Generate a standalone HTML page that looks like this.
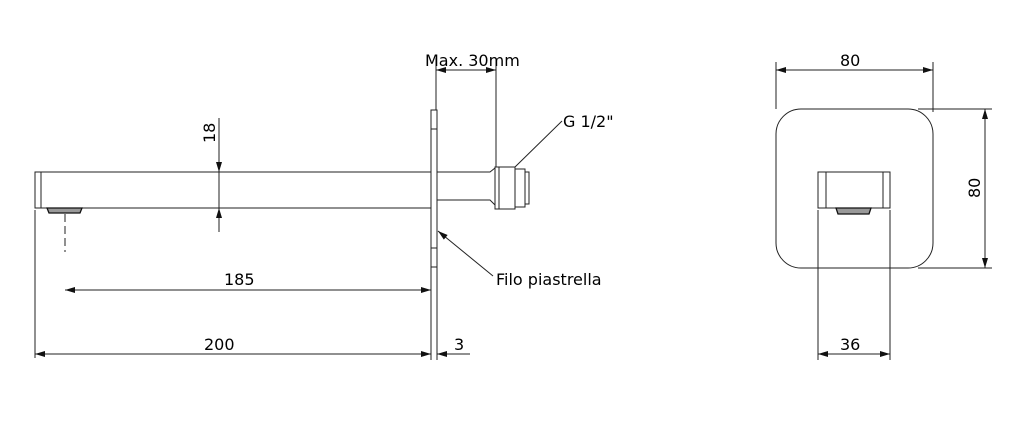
<!DOCTYPE html>
<html><head><style>body{margin:0;background:#fff}svg{display:block}text{font-family:"DejaVu Sans","Liberation Sans",sans-serif;font-size:16px;fill:#000}</style></head><body>
<svg width="1024" height="437" viewBox="0 0 1024 437" xmlns="http://www.w3.org/2000/svg">
<defs><marker id="a" viewBox="0 0 10 6" refX="10" refY="3" markerWidth="14" markerHeight="6" markerUnits="userSpaceOnUse" orient="auto-start-reverse"><path d="M0,0 L10,3 L0,6z" fill="#111"/></marker></defs>
<g stroke="#222" stroke-width="1" fill="none">
<rect x="35" y="172" width="396" height="36"/>
<line x1="41" y1="172" x2="41" y2="208"/>
<path d="M47,208 L82,208 L80,213 L49,213Z" fill="#999" stroke="#111" stroke-width="1.3"/>
<line x1="65" y1="214" x2="65" y2="252" stroke-dasharray="8,4"/>
<line x1="35" y1="210" x2="35" y2="358"/>
<line x1="219" y1="118" x2="219" y2="172" marker-end="url(#a)"/>
<line x1="219" y1="232" x2="219" y2="208" marker-end="url(#a)"/>
<line x1="219" y1="172" x2="219" y2="208"/>
<rect x="431" y="110" width="6" height="157"/>
<line x1="431" y1="129" x2="437" y2="129"/><line x1="431" y1="248" x2="437" y2="248"/>
<line x1="431" y1="267" x2="431" y2="360"/><line x1="437" y1="267" x2="437" y2="360"/>
<line x1="436" y1="58" x2="436" y2="110"/>
<path d="M437,172 L490,172 L495,168 M437,200 L490,200 L495,205"/>
<rect x="495" y="167" width="20" height="42"/>
<line x1="499" y1="167" x2="499" y2="209"/>
<rect x="515" y="169" width="10" height="38"/>
<rect x="525" y="172" width="4" height="32"/>
<line x1="496" y1="58" x2="496" y2="167"/>
<line x1="436" y1="70" x2="496" y2="70" marker-start="url(#a)" marker-end="url(#a)"/>
<line x1="515" y1="167" x2="562" y2="121"/>
<line x1="493" y1="276" x2="438" y2="231" marker-end="url(#a)"/>
<line x1="65" y1="290" x2="431" y2="290" marker-start="url(#a)" marker-end="url(#a)"/>
<line x1="35" y1="354" x2="431" y2="354" marker-start="url(#a)" marker-end="url(#a)"/>
<line x1="470" y1="354" x2="437" y2="354" marker-end="url(#a)"/>
<rect x="776" y="109" width="157" height="159" rx="25"/>
<rect x="818" y="172" width="72" height="36"/>
<line x1="826" y1="172" x2="826" y2="208"/><line x1="883" y1="172" x2="883" y2="208"/>
<path d="M836,208 L871,208 L869,214 L838,214Z" fill="#999" stroke="#111" stroke-width="1.3"/>
<line x1="818" y1="210" x2="818" y2="360"/><line x1="890" y1="210" x2="890" y2="360"/>
<line x1="818" y1="354" x2="890" y2="354" marker-start="url(#a)" marker-end="url(#a)"/>
<line x1="776" y1="62" x2="776" y2="109"/><line x1="933" y1="62" x2="933" y2="112"/>
<line x1="776" y1="70" x2="933" y2="70" marker-start="url(#a)" marker-end="url(#a)"/>
<line x1="918" y1="109" x2="992" y2="109"/><line x1="918" y1="268" x2="992" y2="268"/>
<line x1="985" y1="109" x2="985" y2="268" marker-start="url(#a)" marker-end="url(#a)"/>
</g>
<text x="425" y="66">Max. 30mm</text>
<text x="563" y="127">G 1/2"</text>
<text x="496" y="285">Filo piastrella</text>
<text x="224" y="285">185</text>
<text x="204" y="350">200</text>
<text x="454" y="350">3</text>
<text x="840" y="66">80</text>
<text x="840" y="350">36</text>
<text transform="translate(215,143) rotate(-90)">18</text>
<text transform="translate(980,198) rotate(-90)">80</text>
</svg>
</body></html>
